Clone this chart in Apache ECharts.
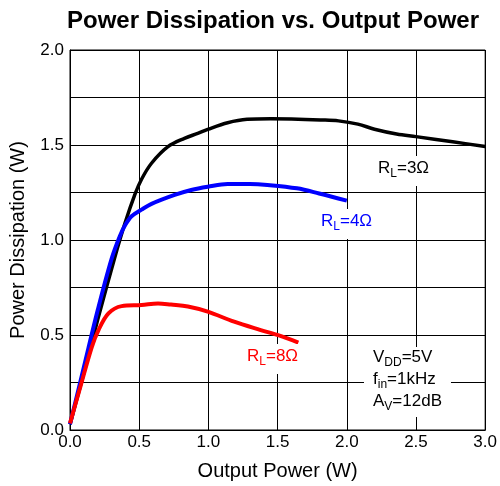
<!DOCTYPE html>
<html><head><meta charset="utf-8">
<script src="https://cdn.jsdelivr.net/npm/echarts@6/dist/echarts.min.js"></script>
<style>html,body{margin:0;padding:0;background:#fff}#c{width:500px;height:486px}</style>
</head><body><div id="c"></div>
<script>
var rl3X = [0, 0.1, 0.2, 0.325, 0.397, 0.469, 0.517, 0.589, 0.708, 0.827, 0.923, 0.995, 1.139, 1.28, 1.45, 1.6, 1.81, 1.94, 2.08, 2.2, 2.36, 2.5, 2.765, 3.0];
var rl3Y = [0.03, 0.3, 0.58, 0.912, 1.088, 1.24, 1.32, 1.404, 1.491, 1.535, 1.561, 1.582, 1.617, 1.635, 1.638, 1.637, 1.632, 1.627, 1.61, 1.583, 1.558, 1.544, 1.517, 1.492];
var rl4X = [0, 0.1, 0.2, 0.3, 0.36, 0.4, 0.445, 0.517, 0.589, 0.756, 0.876, 0.995, 1.139, 1.3, 1.426, 1.64, 1.8, 2.0];
var rl4Y = [0.03, 0.33, 0.63, 0.9, 1.02, 1.08, 1.125, 1.16, 1.19, 1.237, 1.263, 1.28, 1.295, 1.295, 1.29, 1.272, 1.245, 1.207];
var rl8X = [0, 0.075, 0.158, 0.206, 0.278, 0.373, 0.517, 0.636, 0.73, 0.852, 0.995, 1.186, 1.378, 1.52, 1.65];
var rl8Y = [0.035, 0.228, 0.438, 0.526, 0.614, 0.652, 0.658, 0.666, 0.66, 0.65, 0.623, 0.57, 0.526, 0.495, 0.46];
var xTicks = [0, 0.5, 1.0, 1.5, 2.0, 2.5, 3.0];
var yTicks = [0, 0.5, 1.0, 1.5, 2.0];

function pairs(xs, ys){ return xs.map(function(x,i){ return [x, ys[i]]; }); }
var FONT = 'Liberation Sans, Arial, Helvetica, sans-serif';
var chart = echarts.init(document.getElementById('c'), null, {renderer:'canvas'});
function lbl(main, sub, rest){ return '{a|' + main + '}{s|' + sub + '}{a|' + rest + '}'; }
function richFor(color){
  return {
    a: {fontSize: 17, fontFamily: FONT, fill: color, color: color, lineHeight: 22, verticalAlign: 'top'},
    s: {fontSize: 12, fontFamily: FONT, fill: color, color: color, lineHeight: 22, verticalAlign: 'top', padding:[8,0,0,0]}
  };
}
chart.setOption({
  animation: false,
  backgroundColor: '#fff',
  title: {
    text: 'Power Dissipation vs. Output Power',
    left: 268, top: 4, textAlign: 'center',
    textStyle: {fontSize: 24, fontWeight: 'bold', fontFamily: FONT, color: '#000'}
  },
  grid: {left: 68, right: 14, top: 50, bottom: 56, show: true, borderColor: '#000', borderWidth: 1, containLabel: false},
  xAxis: {
    type: 'value', min: 0, max: 3, interval: 0.5,
    name: 'Output Power (W)', nameLocation: 'middle', nameGap: 31,
    nameTextStyle: {fontSize: 20, fontFamily: FONT, color: '#000'},
    axisLine: {lineStyle: {color: '#000', width: 1}},
    axisTick: {show: false},
    axisLabel: {fontSize: 17, fontFamily: FONT, color: '#000', margin: 4,
      formatter: function(v){ return xTicks.indexOf(+v.toFixed(2)) >= 0 ? v.toFixed(1) : ''; }},
    splitLine: {show: true, lineStyle: {color: '#000', width: 1}}
  },
  yAxis: {
    type: 'value', min: 0, max: 2, interval: 0.25,
    name: 'Power Dissipation (W)', nameLocation: 'middle', nameGap: 42,
    nameTextStyle: {fontSize: 20, fontFamily: FONT, color: '#000'},
    axisLine: {lineStyle: {color: '#000', width: 1}},
    axisTick: {show: false},
    axisLabel: {fontSize: 17, fontFamily: FONT, color: '#000', margin: 6,
      formatter: function(v){ return yTicks.indexOf(+v.toFixed(2)) >= 0 ? v.toFixed(1) : ''; }},
    splitLine: {show: true, lineStyle: {color: '#000', width: 1}}
  },
  series: [
    {type: 'line', name: 'RL=3', data: pairs(rl3X, rl3Y), smooth: 0.35, showSymbol: false, lineStyle: {color: '#000', width: 3.5}, z: 2},
    {type: 'line', name: 'RL=4', data: pairs(rl4X, rl4Y), smooth: 0.35, showSymbol: false, lineStyle: {color: '#0000ff', width: 4}, z: 3},
    {type: 'line', name: 'RL=8', data: pairs(rl8X, rl8Y), smooth: 0.35, showSymbol: false, lineStyle: {color: '#ff0000', width: 4}, z: 4}
  ],
  graphic: [
    {type: 'text', left: 370, top: 156, z: 10, style: {text: lbl('R','L','=3Ω'), rich: richFor('#000'), fill: '#000', backgroundColor: '#fff', padding: [4,8,4,8]}},
    {type: 'text', left: 313, top: 209, z: 10, style: {text: lbl('R','L','=4Ω'), rich: richFor('#0000ff'), fill: '#0000ff', backgroundColor: '#fff', padding: [4,8,4,8]}},
    {type: 'text', left: 239, top: 344, z: 10, style: {text: lbl('R','L','=8Ω'), rich: richFor('#ff0000'), fill: '#ff0000', backgroundColor: '#fff', padding: [4,8,4,8]}},
    {type: 'text', left: 364, top: 347, z: 10, style: {
      text: lbl('V','DD','=5V') + '\n' + lbl('f','in','=1kHz') + '\n' + lbl('A','V','=12dB'),
      rich: richFor('#000'), fill: '#000', backgroundColor: '#fff', padding: [2,9,2,9]}}
  ]
});
</script></body></html>
